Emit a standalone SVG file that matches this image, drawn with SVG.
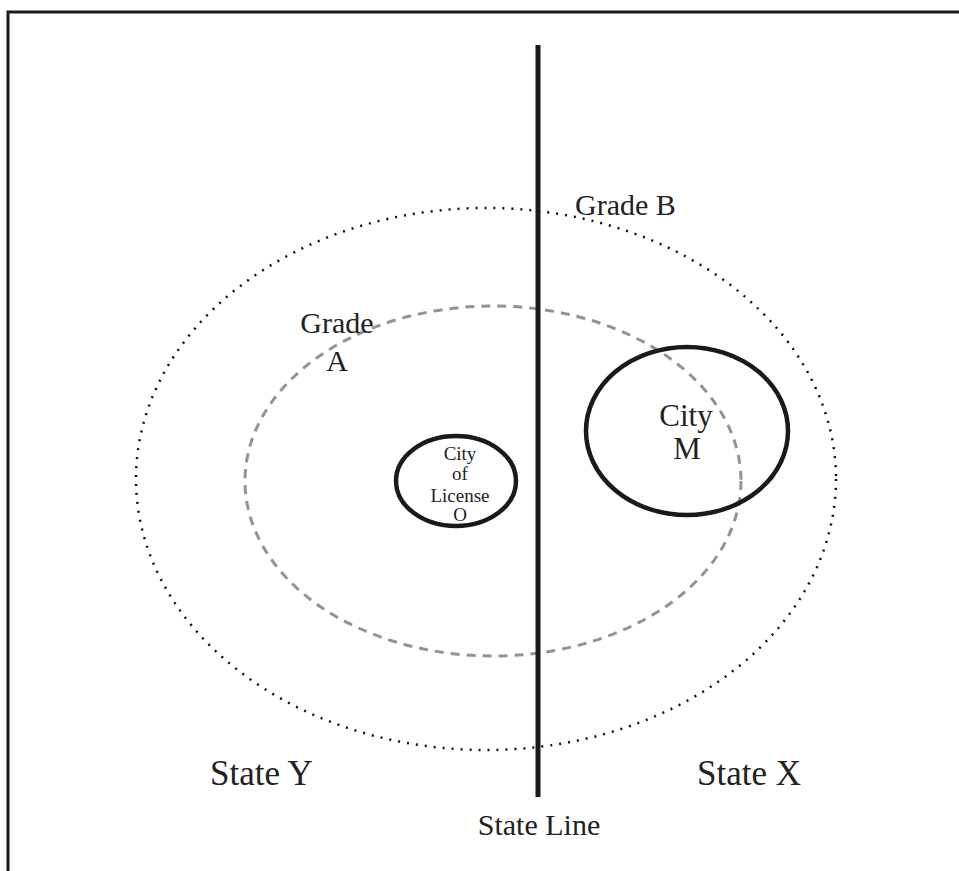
<svg xmlns="http://www.w3.org/2000/svg" width="959" height="871" viewBox="0 0 959 871">
<style>
text{font-family:"Liberation Serif","Times New Roman",serif;fill:#222}
.city{fill:none;stroke:#1a1a1a;stroke-width:4.5}
</style>
<rect width="959" height="871" fill="#fff"/>
<path d="M8,871 V12 H959" fill="none" stroke="#1a1a1a" stroke-width="3"/>
<g id="gradeB">
<ellipse cx="486" cy="479" rx="350" ry="271" fill="none" stroke="#111" stroke-width="2.5" stroke-dasharray="2 7"/>
<text x="575" y="215" font-size="30">Grade B</text>
</g>
<g id="gradeA">
<ellipse cx="493" cy="481" rx="248" ry="175" fill="none" stroke="#9a918c" stroke-width="3" stroke-dasharray="9 7"/>
<text x="337" y="333" font-size="30" text-anchor="middle">Grade</text>
<text x="337" y="371" font-size="30" text-anchor="middle">A</text>
</g>
<g id="stateLine">
<line x1="538" y1="45" x2="538" y2="797" stroke="#1a1a1a" stroke-width="5"/>
<text x="539" y="835" font-size="30" text-anchor="middle">State Line</text>
</g>
<g id="cityM">
<ellipse class="city" cx="687" cy="431" rx="101" ry="84"/>
<text x="686" y="426" font-size="31" text-anchor="middle">City</text>
<text x="687" y="459" font-size="31" text-anchor="middle">M</text>
</g>
<g id="cityO">
<ellipse class="city" cx="456" cy="481" rx="60" ry="45"/>
<g font-size="19" text-anchor="middle">
<text x="460" y="460">City</text>
<text x="460" y="480">of</text>
<text x="460" y="502">License</text>
<text x="460" y="521">O</text>
</g>
</g>
<g id="stateY"><text x="210" y="785" font-size="35">State Y</text></g>
<g id="stateX"><text x="697" y="785" font-size="35">State X</text></g>
</svg>
